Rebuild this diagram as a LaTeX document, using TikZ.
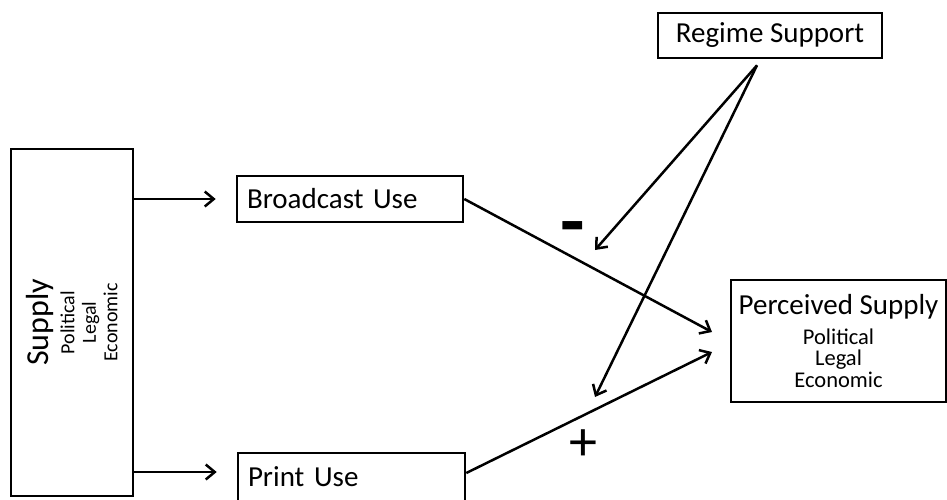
\documentclass[tikz,border=0pt]{standalone}
\usepackage{fontspec}
\setmainfont{Carlito}
\usetikzlibrary{arrows.meta}

\newcommand{\mainsize}{\fontsize{29}{34}\selectfont}
\newcommand{\subsize}{\fontsize{22.5}{21.5}\selectfont}

\begin{document}
\begin{tikzpicture}[x=1pt,y=-1pt,
  box/.style={draw,line width=2.6pt,inner sep=0pt},
  conn/.style={line width=2.5pt,-{Straight Barb[length=9pt,width=15pt]}},
]
\useasboundingbox (0,0) rectangle (947,499);
\clip (0,0) rectangle (947,499);

% boxes
\node[box,minimum width=224pt,minimum height=45pt,font=\mainsize]
  (regime) at (770,35.5) {Regime Support};
\node[box,minimum width=122pt,minimum height=347pt] (supply) at (72,322.5) {};
\node[rotate=90,align=center,font=\fontsize{20}{21.5}\selectfont] (supplytext) at (supply.center)
  {{\fontsize{32}{34}\selectfont Supply}\\[4pt]Political\\Legal\\Economic};
\node[box,minimum width=226pt,minimum height=46pt,text width=206pt,
  inner xsep=10pt,align=left,font=\mainsize] (broadcast) at (350,199) {Broadcast Use};
\node[box,minimum width=227pt,minimum height=48pt,text width=207pt,
  inner xsep=10pt,align=left,font=\mainsize] (print) at (351.5,477) {Print Use};
\node[box,minimum width=215pt,minimum height=122pt,align=center,font=\subsize]
  (perceived) at (838.5,341) {{\mainsize Perceived Supply}\\[8pt]Political\\Legal\\Economic};

% connector end points
\coordinate (apex) at ([xshift=-13pt,yshift=-6pt]regime.south);
\coordinate (modB) at (595,250);
\coordinate (modP) at (595,397);
\coordinate (inB) at (712,332);
\coordinate (inP) at (712,352);
\coordinate (pIn) at ([yshift=5pt]print.west);
\coordinate (pOut) at ([yshift=4pt]print.east);

% connectors
\draw[conn] (supply.east |- broadcast.west) -- ([xshift=-20pt]broadcast.west);
\draw[conn] (supply.east |- pIn) -- ([xshift=-20pt]pIn);
\draw[conn] (broadcast.east) -- (inB);
\draw[conn] (pOut) -- (inP);
\draw[conn] (apex) -- (modB);
\draw[conn] (apex) -- (modP);

% signs
\node[font=\fontsize{80}{80}\selectfont\bfseries,anchor=base,inner sep=0pt]
  (minus) at (573,248) {-};
\node[font=\fontsize{56}{56}\selectfont] (plus) at (583,445) {+};
\end{tikzpicture}
\end{document}
